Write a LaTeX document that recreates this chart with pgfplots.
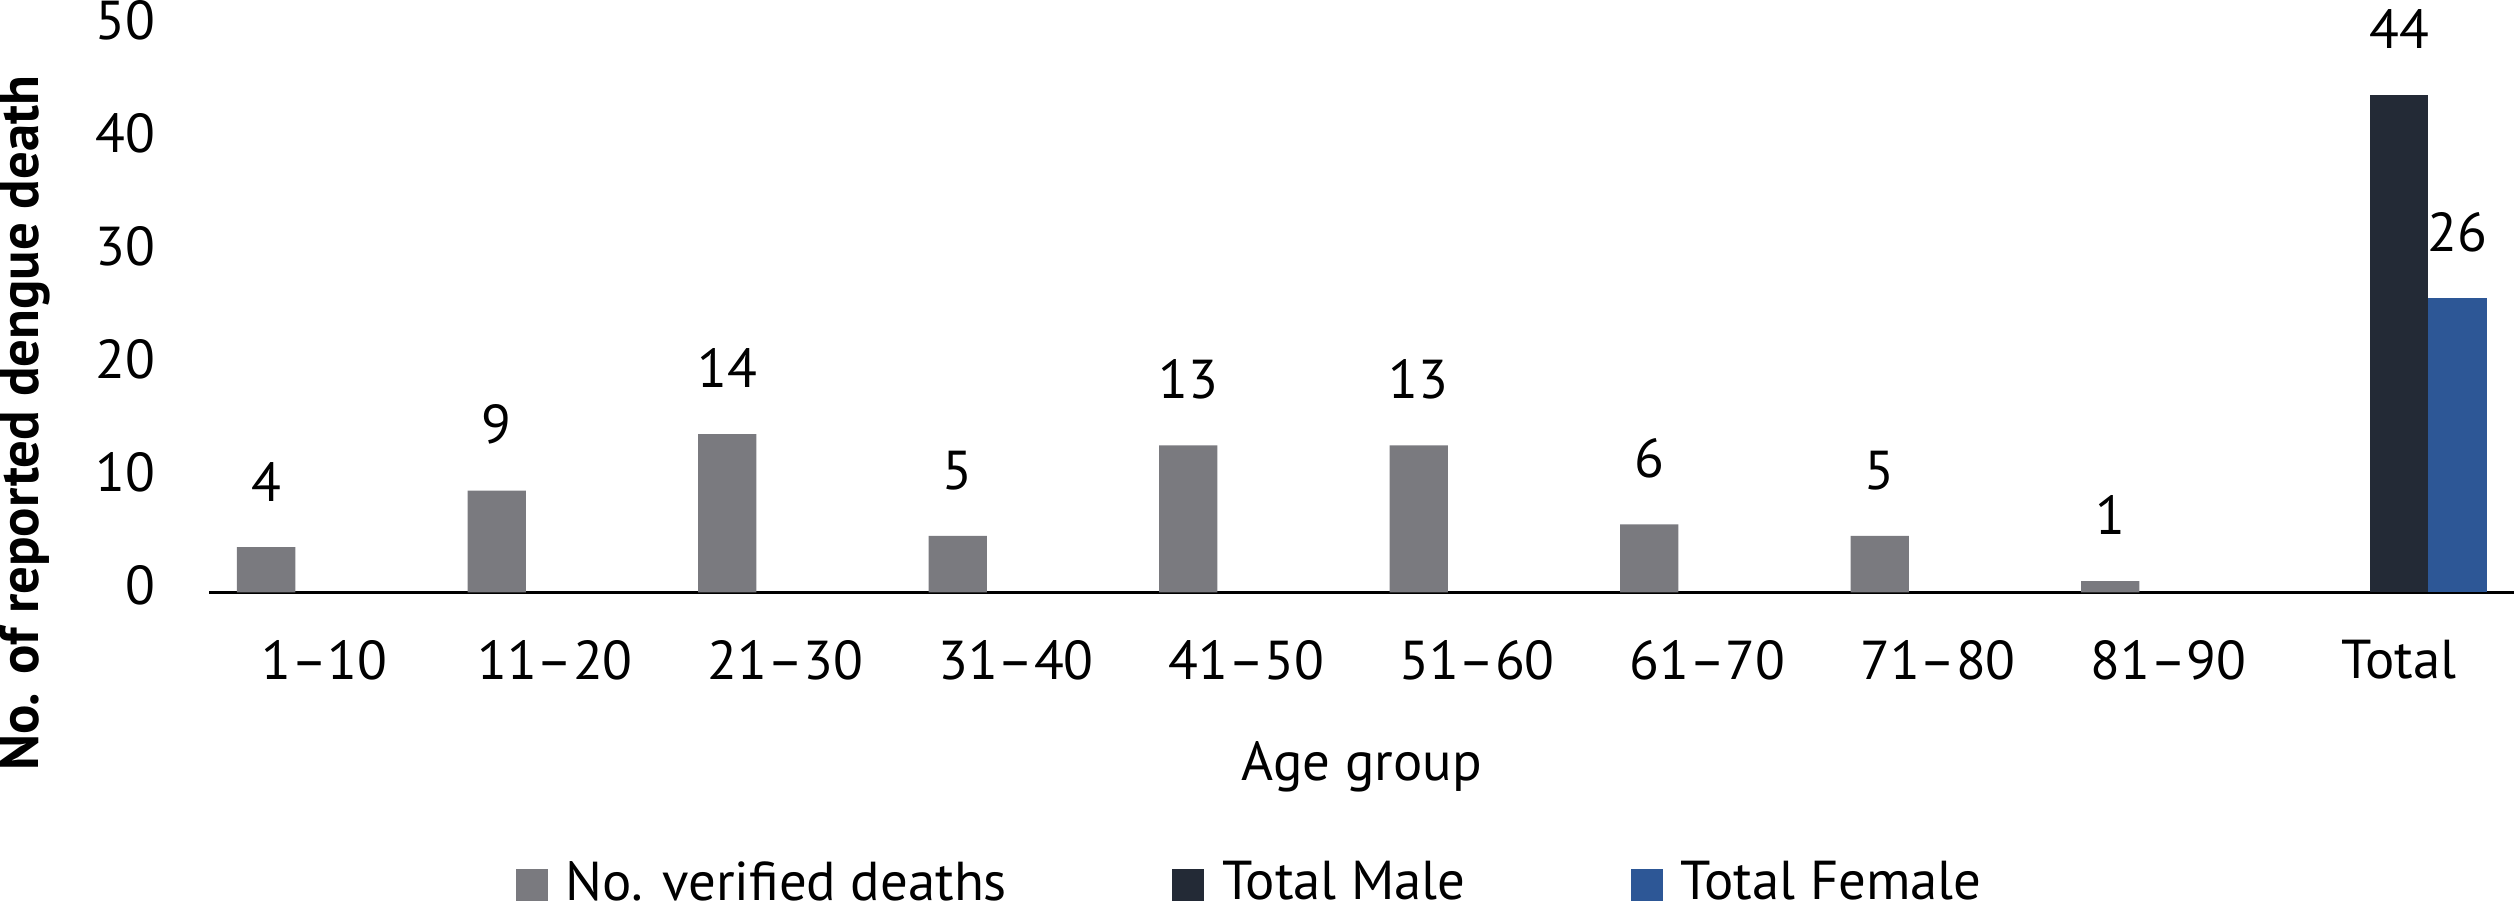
\documentclass[border=0pt,11pt]{standalone}
\usepackage{fontspec}
\setmainfont{PT Sans}
\usepackage{pgfplots}
\pgfplotsset{compat=1.18}

\definecolor{deathgray}{RGB}{122,122,127}
\definecolor{malenavy}{RGB}{35,42,54}
\definecolor{femaleblue}{RGB}{45,87,150}

\begin{document}
\begin{tikzpicture}
\begin{axis}[
	scale only axis,
	width=460.6pt, height=113pt,
	ybar=0pt,
	bar width=0.253,
	xmin=-0.5, xmax=9.5,
	ymin=0, ymax=50,
	ytick={0,10,...,50},
	xtick={0,...,9},
	xticklabels={1--10,11--20,21--30,31--40,41--50,51--60,61--70,71--80,81--90,Total},
	axis x line=bottom,
	axis y line=left,
	x axis line style={-, line width=0.7pt, black},
	y axis line style={draw=none},
	major tick length=0pt,
	/pgf/number format/assume math mode=true,
	xticklabel style={inner sep=0pt, anchor=north, yshift=-9.4pt},
	yticklabel style={inner sep=0pt, anchor=east, xshift=-10.6pt, yshift=1.4pt},
	xlabel={Age group},
	xlabel style={at={(axis description cs:0.5,-0.262)}, anchor=north, inner sep=0pt},
	ylabel={\bfseries No. of reported dengue death},
	ylabel style={at={(axis description cs:-0.0912,0.299)}, anchor=north, inner sep=0pt},
	nodes near coords,
	every node near coord/.append style={inner sep=0pt, anchor=south, yshift=9pt, black},
	legend style={at={(axis description cs:0.1329,-0.517)}, anchor=west,
		draw=none, inner sep=0pt, outer sep=0pt, legend columns=3,
		nodes={inner sep=0pt},
		/tikz/every odd column/.append style={column sep=3.6pt},
		/tikz/every even column/.append style={column sep=33pt}},
	legend image code/.code={\fill[#1] (0pt,-3.2pt) rectangle (6.4pt,3.2pt);},
]
\addplot[fill=deathgray, draw=none] coordinates {
	(0,4) (1,9) (2,14) (3,5) (4,13) (5,13) (6,6) (7,5) (8,1)
};
\addplot[fill=malenavy, draw=none] coordinates { (9,44) };
\addplot[fill=femaleblue, draw=none] coordinates { (9,26) };
\legend{No. verified deaths, Total Male, Total Female}
\end{axis}
\end{tikzpicture}
\end{document}
